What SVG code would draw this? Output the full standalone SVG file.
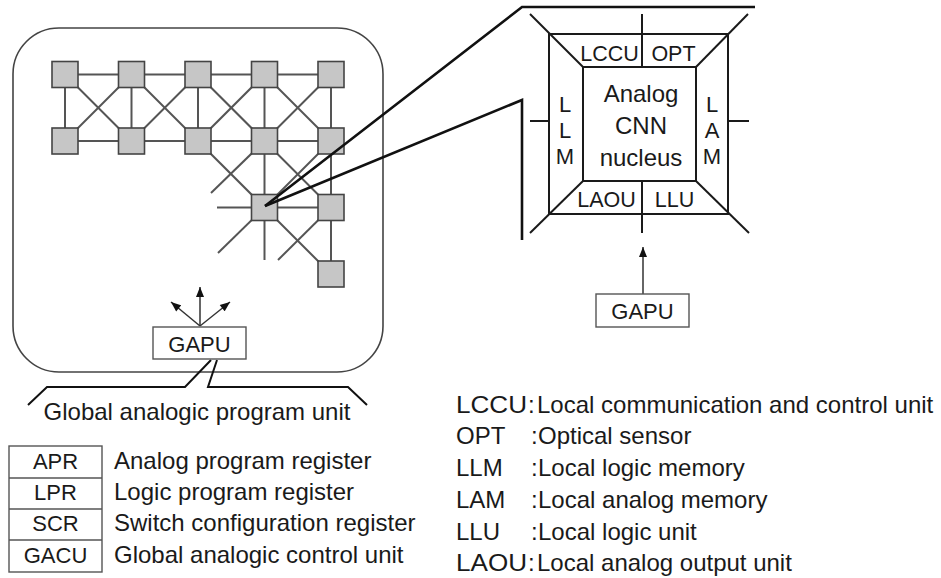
<svg xmlns="http://www.w3.org/2000/svg" width="941" height="578" viewBox="0 0 941 578">
<style>
  text { font-family: "Liberation Sans", Arial, sans-serif; fill: #1a1a1a; }
  .grid { stroke: #555; stroke-width: 2; fill: none; stroke-linecap: butt; }
  .cell { fill: #c6c6c6; stroke: #444; stroke-width: 1.6; }
  .thick { stroke: #111; stroke-width: 2.6; fill: none; stroke-linejoin: miter; }
  .zoomline { stroke: #1a1a1a; stroke-width: 2; fill: none; }
  .box { fill: #fff; stroke: #555; stroke-width: 1.4; }
  .arrow { stroke: #333; stroke-width: 1.5; fill: none; }
  .lbl { font-size: 21.5px; text-anchor: middle; }
  .big { font-size: 24px; text-anchor: middle; }
  .leg { font-size: 24px; }
</style>
<defs>
  <marker id="ah" viewBox="0 0 10 8" refX="10" refY="4" markerWidth="11" markerHeight="8" orient="auto" markerUnits="userSpaceOnUse">
    <path d="M0,0 L10,4 L0,8 z" fill="#111"/>
  </marker>
</defs>

<!-- chip outline -->
<rect id="chip" x="13" y="28" width="370" height="344" rx="46" ry="46" fill="none" stroke="#444" stroke-width="1.6"/>

<g id="connectors">
  <!-- grid links -->
  <g class="grid">
    <line x1="65" y1="74.5" x2="331" y2="74.5"/>
    <line x1="65" y1="141" x2="331" y2="141"/>
    <line x1="65" y1="74.5" x2="65" y2="141"/>
    <line x1="131.5" y1="74.5" x2="131.5" y2="141"/>
    <line x1="198" y1="74.5" x2="198" y2="141"/>
    <line x1="264.5" y1="74.5" x2="264.5" y2="260"/>
    <line x1="331" y1="74.5" x2="331" y2="274"/>
    <line x1="65" y1="74.5" x2="131.5" y2="141"/>
    <line x1="131.5" y1="74.5" x2="65" y2="141"/>
    <line x1="131.5" y1="74.5" x2="198" y2="141"/>
    <line x1="198" y1="74.5" x2="131.5" y2="141"/>
    <line x1="198" y1="74.5" x2="264.5" y2="141"/>
    <line x1="264.5" y1="74.5" x2="198" y2="141"/>
    <line x1="264.5" y1="74.5" x2="331" y2="141"/>
    <line x1="331" y1="74.5" x2="264.5" y2="141"/>
    <line x1="198" y1="141" x2="264.5" y2="207.5"/>
    <line x1="264.5" y1="141" x2="211" y2="193"/>
    <line x1="264.5" y1="141" x2="331" y2="207.5"/>
    <line x1="331" y1="141" x2="264.5" y2="207.5"/>
    <line x1="217" y1="207.5" x2="331" y2="207.5"/>
    <line x1="264.5" y1="207.5" x2="218" y2="253"/>
    <line x1="264.5" y1="207.5" x2="331" y2="274"/>
    <line x1="331" y1="207.5" x2="278" y2="260"/>
  </g>
  <!-- GAPU broadcast arrows -->
  <line class="arrow" x1="200" y1="326" x2="200" y2="287" marker-end="url(#ah)"/>
  <line class="arrow" x1="200" y1="326" x2="171" y2="302" marker-end="url(#ah)"/>
  <line class="arrow" x1="200" y1="326" x2="230" y2="302" marker-end="url(#ah)"/>
  <!-- right GAPU arrow -->
  <line class="arrow" x1="643" y1="294" x2="643" y2="247" marker-end="url(#ah)"/>
  <!-- bracket for Global analogic program unit -->
  <polyline class="thick" style="stroke-width:2" points="28,405 47,387 185,387 211,360"/>
  <polyline class="thick" style="stroke-width:2" points="217,360 208,387 348,387 367,405"/>
</g>

<!-- grid cells -->
<g id="cells">
  <rect class="cell" x="52" y="61.5" width="26" height="26"/>
  <rect class="cell" x="118.5" y="61.5" width="26" height="26"/>
  <rect class="cell" x="185" y="61.5" width="26" height="26"/>
  <rect class="cell" x="251.5" y="61.5" width="26" height="26"/>
  <rect class="cell" x="318" y="61.5" width="26" height="26"/>
  <rect class="cell" x="52" y="128" width="26" height="26"/>
  <rect class="cell" x="118.5" y="128" width="26" height="26"/>
  <rect class="cell" x="185" y="128" width="26" height="26"/>
  <rect class="cell" x="251.5" y="128" width="26" height="26"/>
  <rect class="cell" x="318" y="128" width="26" height="26"/>
  <rect id="cell-selected" class="cell" x="251.5" y="194.5" width="26" height="26"/>
  <rect class="cell" x="318" y="194.5" width="26" height="26"/>
  <rect class="cell" x="318" y="261" width="26" height="26"/>
</g>

<!-- magnification lines -->
<g id="magnify">
  <polyline class="thick" points="265,206 522,7 755,7"/>
  <polyline class="thick" points="265,206 522,100 522,240"/>
</g>

<!-- left GAPU -->
<g id="gapu-left">
  <rect class="box" x="153" y="327" width="93" height="32"/>
  <text x="199.5" y="352" style="font-size:22px;text-anchor:middle">GAPU</text>
</g>
<text id="gapu-caption" class="leg" x="197" y="420" text-anchor="middle">Global analogic program unit</text>

<!-- zoomed cell -->
<g id="cell-detail">
  <rect x="549" y="34" width="179" height="180" fill="#fff" class="zoomline"/>
  <rect x="583" y="67" width="113" height="114" class="zoomline"/>
  <line class="zoomline" x1="530" y1="14" x2="583" y2="67"/>
  <line class="zoomline" x1="748" y1="14" x2="696" y2="67"/>
  <line class="zoomline" x1="530" y1="233" x2="583" y2="181"/>
  <line class="zoomline" x1="749" y1="233" x2="696" y2="181"/>
  <line class="zoomline" x1="642" y1="14" x2="642" y2="67"/>
  <line class="zoomline" x1="642" y1="181" x2="642" y2="233"/>
  <line class="zoomline" x1="530" y1="121" x2="549" y2="121"/>
  <line class="zoomline" x1="728" y1="121" x2="749" y2="121"/>
  <text class="lbl" x="609.5" y="61">LCCU</text>
  <text class="lbl" x="673.5" y="61">OPT</text>
  <text class="lbl" x="606.5" y="207">LAOU</text>
  <text class="lbl" x="674.5" y="207">LLU</text>
  <text class="big" x="641" y="102">Analog</text>
  <text class="big" x="641" y="134">CNN</text>
  <text class="big" x="641" y="166">nucleus</text>
  <text class="lbl" x="565" y="112" style="font-size:22px">L</text>
  <text class="lbl" x="565" y="138" style="font-size:22px">L</text>
  <text class="lbl" x="565" y="164" style="font-size:22px">M</text>
  <text class="lbl" x="712" y="112" style="font-size:22px">L</text>
  <text class="lbl" x="712" y="138" style="font-size:22px">A</text>
  <text class="lbl" x="712" y="164" style="font-size:22px">M</text>
</g>

<!-- right GAPU -->
<g id="gapu-right">
  <rect class="box" x="596" y="294" width="93" height="33"/>
  <text x="642.5" y="319" style="font-size:22px;text-anchor:middle">GAPU</text>
</g>

<!-- left legend table -->
<g id="legend-registers">
  <rect x="9" y="446" width="93" height="126" fill="none" stroke="#555" stroke-width="1.4"/>
  <line x1="9" y1="478" x2="102" y2="478" stroke="#555" stroke-width="1.4"/>
  <line x1="9" y1="509" x2="102" y2="509" stroke="#555" stroke-width="1.4"/>
  <line x1="9" y1="540" x2="102" y2="540" stroke="#555" stroke-width="1.4"/>
  <text x="55.5" y="469" style="font-size:22px;text-anchor:middle">APR</text>
  <text x="55.5" y="500" style="font-size:22px;text-anchor:middle">LPR</text>
  <text x="55.5" y="531" style="font-size:22px;text-anchor:middle">SCR</text>
  <text x="55.5" y="563" style="font-size:22px;text-anchor:middle">GACU</text>
  <text class="leg" x="114" y="469">Analog program register</text>
  <text class="leg" x="114" y="500">Logic program register</text>
  <text class="leg" x="114" y="531">Switch configuration register</text>
  <text class="leg" x="114" y="563">Global analogic control unit</text>
</g>

<!-- right legend -->
<g id="legend-units">
  <text class="leg" y="413"><tspan x="456" textLength="71" lengthAdjust="spacingAndGlyphs">LCCU</tspan><tspan x="528">:</tspan><tspan x="537">Local communication and control unit</tspan></text>
  <text class="leg" y="444"><tspan x="456">OPT</tspan><tspan x="531">:</tspan><tspan x="538">Optical sensor</tspan></text>
  <text class="leg" y="476"><tspan x="456">LLM</tspan><tspan x="531">:</tspan><tspan x="538">Local logic memory</tspan></text>
  <text class="leg" y="508"><tspan x="456">LAM</tspan><tspan x="531">:</tspan><tspan x="538">Local analog memory</tspan></text>
  <text class="leg" y="540"><tspan x="456">LLU</tspan><tspan x="531">:</tspan><tspan x="538">Local logic unit</tspan></text>
  <text class="leg" y="571"><tspan x="456" textLength="71" lengthAdjust="spacingAndGlyphs">LAOU</tspan><tspan x="528">:</tspan><tspan x="537">Local analog output unit</tspan></text>
</g>
</svg>
